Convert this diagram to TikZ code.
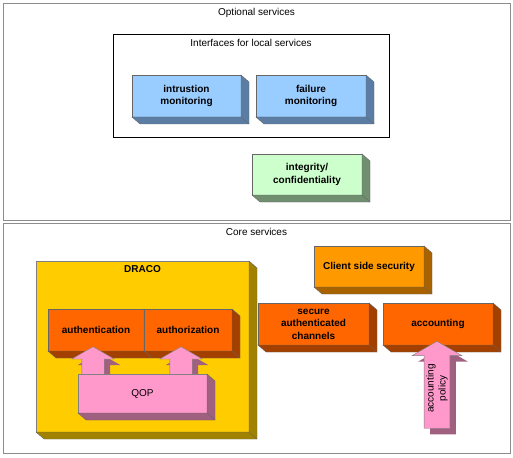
\documentclass[tikz,border=0pt]{standalone}
\usepackage{fontspec}
\setmainfont{Liberation Sans}
\usepackage{tikz}
\usetikzlibrary{shapes.arrows, positioning, calc, shadows}
\definecolor{bluefront}{HTML}{99CCFF}
\definecolor{blueside}{HTML}{5B7DA3}
\definecolor{greenfront}{HTML}{CCFFCC}
\definecolor{greenside}{HTML}{6F8F6F}
\definecolor{orangefront}{HTML}{FF6600}
\definecolor{orangeside}{HTML}{A34000}
\definecolor{clientfront}{HTML}{FF9900}
\definecolor{clientside}{HTML}{A86200}
\definecolor{yellowfront}{HTML}{FFCC00}
\definecolor{yellowside}{HTML}{A08200}
\definecolor{pinkfront}{HTML}{FF99CC}
\definecolor{pinkside}{HTML}{A0607F}
\tikzstyle{frame} = [rectangle, draw=black!45, line width=0.8pt, outer sep=0pt]
\tikzstyle{block} = [rectangle, draw=black!60, line width=0.4pt, outer sep=0pt, inner sep=2pt, align=center, font=\fontsize{10}{12.5}\selectfont\bfseries]
\tikzstyle{uparrow} = [single arrow, rotate=90, draw=black!50, line width=0.4pt, fill=pinkfront, inner xsep=1pt, minimum width=0pt, single arrow tip angle=120, single arrow head extend=10pt, drop shadow={shadow xshift=6pt, shadow yshift=-6pt, fill=pinkside, opacity=1}]
% side faces of a block
\newcommand{\boxside}[2]{%
  \filldraw[fill=#2, draw=black!60, line width=0.4pt] (#1.north east) -- ++(8pt,-7pt) -- ($(#1.south east)+(8pt,-7pt)$) -- ($(#1.south west)+(8pt,-7pt)$) -- (#1.south west) -- (#1.south east) -- cycle;
  \draw[black!60, line width=0.4pt] (#1.south east) -- ++(8pt,-7pt);}

\begin{document}
\begin{tikzpicture}[x=1pt, y=-1pt, font=\fontsize{10}{12.5}\selectfont]
    \useasboundingbox (0,0) rectangle (513,457);

    % Optional services
    \node (optional) [frame, minimum width=507pt, minimum height=217pt] at (256.5,111.5) {};
    \node (opttitle) [below=2pt of optional.north] {Optional services};
    \node (local) [frame, draw=black, line width=0.5pt, minimum width=276pt, minimum height=103pt] at (251,85.5) {};
    \node (localtitle) [below=2pt of local.north] {Interfaces for local services};

    \node (intrusion) [block, fill=bluefront, minimum width=109pt, minimum height=42pt] at (186.5,96) {intrustion\\monitoring};
    \boxside{intrusion}{blueside}
    \node (failure) [block, fill=bluefront, minimum width=110pt, minimum height=42pt, right=15pt of intrusion] {failure\\monitoring};
    \boxside{failure}{blueside}
    \node (integrity) [block, fill=greenfront, minimum width=110pt, minimum height=41pt] at (307,174.5) {integrity/\\confidentiality};
    \boxside{integrity}{greenside}

    % Core services
    \node (core) [frame, minimum width=507pt, minimum height=230pt] at (256.5,338) {};
    \node (coretitle) [below=2pt of core.north] {Core services};

    \node (draco) [rectangle, draw=black!50, line width=0.4pt, outer sep=0pt, fill=yellowfront, minimum width=213pt, minimum height=171pt] at (142.5,346.5) {};
    \boxside{draco}{yellowside}
    \node (dracotitle) [below=1pt of draco.north, font=\fontsize{10}{12.5}\selectfont\bfseries] {DRACO};

    \node (authentication) [block, fill=orangefront, minimum width=96pt, minimum height=42pt] at (96,330) {authentication};
    \boxside{authentication}{orangeside}
    \node (authorization) [block, fill=orangefront, minimum width=88pt, minimum height=42pt, right=0pt of authentication] {authorization};
    \boxside{authorization}{orangeside}

    \node (arrowa) [uparrow, minimum height=28pt, text height=0pt, text depth=0pt, inner ysep=11pt] at (93,364) {};
    \node (arrowb) [uparrow, minimum height=28pt, text height=0pt, text depth=0pt, inner ysep=11pt] at (181,364) {};
    \node (qop) [block, font=\fontsize{10}{12.5}\selectfont, fill=pinkfront, draw=black!50, minimum width=129pt, minimum height=39pt] at (142.5,393.5) {QOP};
    \boxside{qop}{pinkside}

    \node (client) [block, fill=clientfront, minimum width=110pt, minimum height=41pt] at (369,266.5) {Client side security};
    \boxside{client}{clientside}
    \node (channels) [block, fill=orangefront, minimum width=111pt, minimum height=42pt] at (313.5,324) {secure\\authenticated\\channels};
    \boxside{channels}{orangeside}
    \node (accounting) [block, fill=orangefront, minimum width=110pt, minimum height=42pt] at (438,324) {accounting};
    \boxside{accounting}{orangeside}

    \node (policy) [uparrow, minimum height=87pt, inner ysep=2pt, single arrow head extend=12pt, align=center, font=\fontsize{10}{12}\selectfont] at (437,388.5) {accounting\\policy};
\end{tikzpicture}
\end{document}
